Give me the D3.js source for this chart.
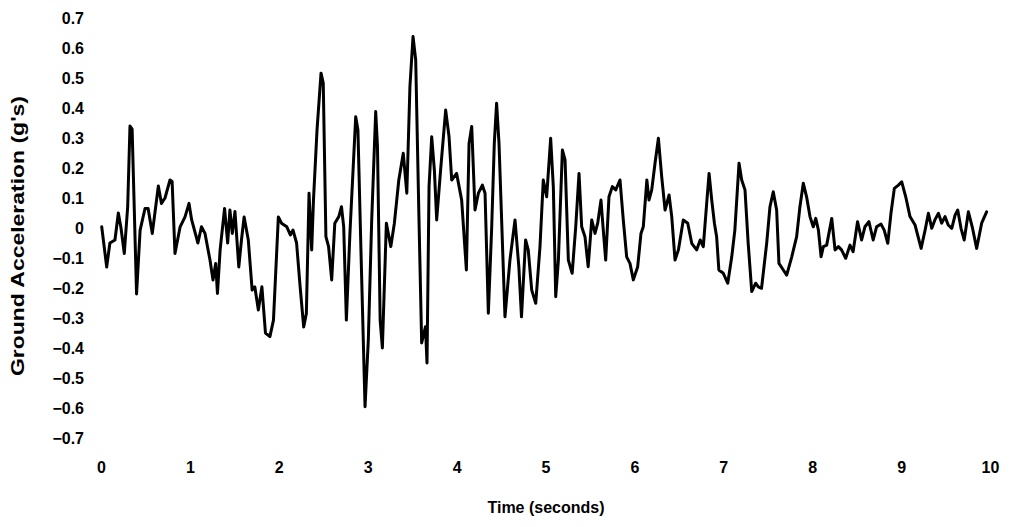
<!DOCTYPE html>
<html>
<head>
<meta charset="utf-8">
<script src="https://cdn.jsdelivr.net/npm/d3@7"></script>
<style>
html,body{margin:0;padding:0;background:#fff;}
svg{display:block;}
text{font-family:"Liberation Sans",Arial,sans-serif;font-weight:bold;fill:#000;}
</style>
</head>
<body>
<svg id="chart" width="1012" height="527"></svg>
<script>
const xTicks = [0,1,2,3,4,5,6,7,8,9,10];
const yTicks = [0.7,0.6,0.5,0.4,0.3,0.2,0.1,0,-0.1,-0.2,-0.3,-0.4,-0.5,-0.6,-0.7];
const xTitle = "Time (seconds)";
const yTitle = "Ground Acceleration (g's)";

const time = [
0.008,0.064,0.10,0.157,0.195,0.225,0.262,0.30,0.326,0.35,0.40,0.44,0.495,0.53,0.577,0.645,0.68,0.72,0.776,0.80,
0.832,0.89,0.945,0.99,1.02,1.09,1.13,1.17,1.226,1.26,1.29,1.31,1.34,1.39,1.425,1.45,1.477,1.507,1.55,1.58,
1.61,1.657,1.70,1.73,1.77,1.81,1.85,1.90,1.94,1.995,
2.03,2.09,2.13,2.16,2.20,2.24,2.28,2.31,2.34,2.37,2.39,2.43,2.475,2.50,2.53,2.56,2.595,2.63,2.675,2.705,
2.73,2.76,2.80,2.865,2.89,2.925,2.97,3.007,3.045,3.09,3.11,3.14,3.165,3.21,3.26,3.30,3.35,3.40,3.44,3.475,
3.51,3.54,3.577,3.607,3.65,3.667,3.69,3.72,3.75,3.776,3.82,3.877,3.915,3.945,4.0,
4.057,4.11,4.14,4.17,4.207,4.245,4.29,4.32,4.357,4.395,4.424,4.45,4.477,4.544,4.60,4.657,4.70,4.73,4.776,4.806,
4.845,4.89,4.938,4.975,5.013,5.058,5.088,5.115,5.145,5.19,5.22,5.257,5.30,5.34,5.377,5.407,5.444,5.48,5.52,5.557,
5.587,5.624,5.65,5.677,5.714,5.752,5.79,5.838,5.875,5.913,5.95,5.988,6.037,6.074,
6.10,6.14,6.164,6.195,6.232,6.27,6.307,6.345,6.39,6.42,6.457,6.495,6.55,6.60,6.645,6.70,6.74,6.775,6.813,6.84,
6.87,6.90,6.925,6.95,7.0,7.05,7.095,7.13,7.177,7.207,7.244,7.28,7.32,7.364,7.394,7.43,7.488,7.525,7.562,7.60,
7.626,7.675,7.713,7.77,7.825,7.862,7.90,7.937,7.975,8.012,8.04,8.07,8.10,8.125,
8.163,8.22,8.257,8.295,8.33,8.377,8.425,8.46,8.51,8.556,8.593,8.638,8.686,8.724,8.774,8.81,8.85,8.886,8.924,8.97,
9.007,9.052,9.10,9.157,9.225,9.27,9.307,9.345,9.38,9.42,9.457,9.494,9.53,9.57,9.607,9.637,9.674,9.71,9.757,9.80,
9.85,9.906,9.962
];
const accel = [
0.004,-0.13,-0.05,-0.04,0.05,0.0,-0.085,0.07,0.34,0.33,-0.22,-0.007,0.065,0.065,-0.018,0.14,0.082,0.10,0.16,0.155,
-0.085,0.004,0.037,0.082,0.027,-0.05,0.004,-0.018,-0.107,-0.173,-0.118,-0.218,-0.073,0.065,-0.05,0.06,-0.018,0.055,-0.13,-0.04,
0.037,-0.04,-0.207,-0.196,-0.273,-0.196,-0.35,-0.362,-0.307,0.037,
0.016,0.004,-0.023,-0.007,-0.05,-0.196,-0.33,-0.285,0.116,-0.073,0.093,0.327,0.516,0.483,-0.029,-0.062,-0.173,0.016,0.038,0.071,
0.004,-0.307,-0.018,0.371,0.327,-0.085,-0.596,-0.373,0.027,0.388,0.271,-0.307,-0.40,0.016,-0.062,0.016,0.16,0.249,0.116,0.471,
0.638,0.56,0.027,-0.383,-0.329,-0.45,0.138,0.304,0.193,0.027,0.193,0.393,0.304,0.16,0.182,
0.093,-0.14,0.282,0.338,0.06,0.116,0.143,0.116,-0.284,0.004,0.282,0.416,0.282,-0.296,-0.107,0.027,-0.129,-0.296,-0.04,-0.073,
-0.207,-0.251,-0.062,0.16,0.104,0.299,0.138,-0.229,-0.107,0.26,0.227,-0.107,-0.151,0.004,0.182,0.004,-0.029,-0.129,0.027,-0.018,
0.016,0.093,-0.007,-0.107,0.104,0.138,0.127,0.16,0.027,-0.096,-0.118,-0.173,-0.129,-0.018,
0.004,0.16,0.093,0.127,0.216,0.299,0.171,0.06,0.11,0.038,-0.107,-0.073,0.027,0.016,-0.051,-0.073,-0.04,-0.062,0.082,0.182,
0.093,0.016,-0.029,-0.14,-0.151,-0.184,-0.096,-0.007,0.216,0.16,0.127,-0.051,-0.212,-0.184,-0.196,-0.201,-0.051,0.071,0.121,0.06,
-0.118,-0.14,-0.157,-0.096,-0.029,0.071,0.149,0.104,0.038,0.004,0.032,-0.007,-0.096,-0.062,
-0.057,0.032,-0.073,-0.062,-0.073,-0.101,-0.057,-0.079,0.021,-0.04,0.004,0.021,-0.04,0.004,0.013,-0.007,-0.051,0.049,0.132,0.143,
0.154,0.104,0.038,0.01,-0.068,-0.007,0.049,-0.001,0.027,0.049,0.016,0.038,0.01,-0.001,0.043,0.06,-0.001,-0.04,0.054,0.004,
-0.068,0.016,0.054
];

const svg = d3.select("#chart");
const x = d3.scaleLinear().domain([0,10]).range([101,990]);
const y = d3.scaleLinear().domain([-0.7,0.7]).range([438,18]);

// x axis (labels only)
const xAxis = d3.axisBottom(x).tickValues(xTicks).tickSize(0).tickPadding(0).tickFormat(d3.format("d"));
const gx = svg.append("g").attr("transform","translate(0,462)").call(xAxis);
gx.select(".domain").remove();
gx.selectAll("text").attr("font-size",16).attr("font-family",null).attr("dy","0.71em");

// y axis (labels only)
const yAxis = d3.axisLeft(y).tickValues(yTicks).tickSize(0).tickPadding(0)
  .tickFormat(d => d === 0 ? "0" : d3.format(".1f")(d));
const gy = svg.append("g").attr("transform","translate(84,0)").call(yAxis);
gy.select(".domain").remove();
gy.selectAll("text").attr("font-size",16).attr("font-family",null);

// line
const line = d3.line().x((d,i)=>x(time[i])).y((d,i)=>y(accel[i])).curve(d3.curveLinear);
svg.append("path").datum(accel).attr("d",line)
  .attr("fill","none").attr("stroke","#000").attr("stroke-width",3)
  .attr("stroke-linejoin","round").attr("stroke-linecap","round");

// titles
svg.append("text").attr("x",546).attr("y",513).attr("text-anchor","middle")
  .attr("font-size",16).text(xTitle);
svg.append("text").attr("transform","translate(24,236) rotate(-90)").attr("text-anchor","middle")
  .attr("font-size",18).attr("textLength",280).attr("lengthAdjust","spacingAndGlyphs").text(yTitle);
</script>
</body>
</html>
